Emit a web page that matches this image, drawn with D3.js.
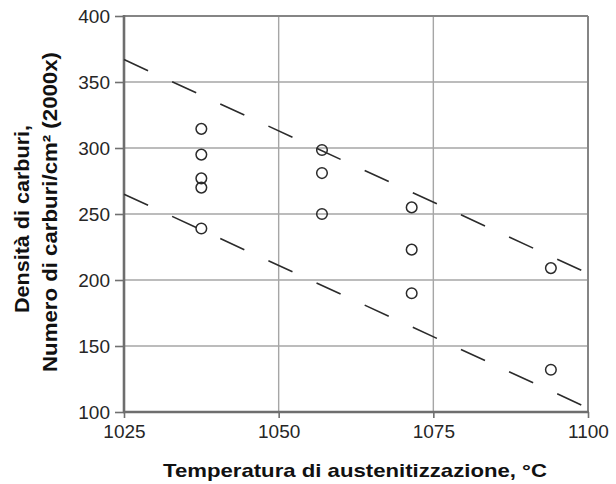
<!DOCTYPE html>
<html>
<head>
<meta charset="utf-8">
<script src="https://cdn.jsdelivr.net/npm/d3@7"></script>
<style>
  html, body { margin: 0; padding: 0; background: #fff; }
  svg { display: block; }
  text { font-family: "Liberation Sans", Arial, sans-serif; }
</style>
</head>
<body>
<svg id="chart" width="616" height="484"></svg>
<script>
// Austenitizing temperature (°C) for each measured specimen
const temperature = [1037.5, 1037.5, 1037.5, 1037.5, 1037.5,
                     1057, 1057, 1057,
                     1071.5, 1071.5, 1071.5,
                     1094, 1094];
// Carbide density, carbides/cm² at 2000x
const carbideDensity = [314.5, 295, 277, 270, 239,
                        298.5, 281, 250,
                        255, 223, 190,
                        209, 132];

// Dashed bounding band: [temperature, density] end points
const upperBound = [[1025, 367], [1100, 205]];
const lowerBound = [[1025, 265], [1100, 103]];

const xTicks = [1025, 1050, 1075, 1100];
const yTicks = [100, 150, 200, 250, 300, 350, 400];

const xTitle = "Temperatura di austenitizzazione, °C";
const yTitle1 = "Densità di carburi,";
const yTitle2 = "Numero di carburi/cm² (2000x)";

const svg = d3.select("#chart");
const plot = { left: 124, right: 588, top: 16, bottom: 412 };

const x = d3.scaleLinear().domain([1025, 1100]).range([plot.left, plot.right]);
const y = d3.scaleLinear().domain([100, 400]).range([plot.bottom, plot.top]);

// grid lines
const grid = svg.append("g");
grid.selectAll("line.v").data(xTicks.slice(1, -1)).join("line")
  .attr("x1", d => x(d)).attr("x2", d => x(d))
  .attr("y1", plot.top).attr("y2", plot.bottom)
  .attr("stroke", "#a6a6a6").attr("stroke-width", 1.4);
grid.selectAll("line.h").data(yTicks.slice(1, -1)).join("line")
  .attr("y1", d => y(d)).attr("y2", d => y(d))
  .attr("x1", plot.left).attr("x2", plot.right)
  .attr("stroke", "#a6a6a6").attr("stroke-width", 1.4);

// axes (ticks + labels)
const xAxis = svg.append("g")
  .attr("transform", `translate(0,${plot.bottom})`)
  .call(d3.axisBottom(x).tickValues(xTicks).tickFormat(d3.format("d"))
        .tickSize(6).tickPadding(7).tickSizeOuter(0));
const yAxis = svg.append("g")
  .attr("transform", `translate(${plot.left},0)`)
  .call(d3.axisLeft(y).tickValues(yTicks).tickFormat(d3.format("d"))
        .tickSize(9).tickPadding(5).tickSizeOuter(0));
[xAxis, yAxis].forEach(a => {
  a.select(".domain").remove();
  a.selectAll(".tick line").attr("stroke", "#707070").attr("stroke-width", 1.6);
  a.selectAll(".tick text")
    .attr("fill", "#262626")
    .style("font-size", "19px")
    .style("font-family", "'Liberation Sans', Arial, sans-serif");
});

// plot frame: heavier left / bottom axes, lighter top / right border
svg.append("line").attr("x1", plot.left).attr("x2", plot.right)
  .attr("y1", plot.top).attr("y2", plot.top)
  .attr("stroke", "#858585").attr("stroke-width", 2);
svg.append("line").attr("x1", plot.right).attr("x2", plot.right)
  .attr("y1", plot.top).attr("y2", plot.bottom)
  .attr("stroke", "#858585").attr("stroke-width", 2);
svg.append("line").attr("x1", plot.left).attr("x2", plot.left)
  .attr("y1", plot.top - 1).attr("y2", plot.bottom + 1)
  .attr("stroke", "#6e6e6e").attr("stroke-width", 2.6);
svg.append("line").attr("x1", plot.left - 1).attr("x2", plot.right + 1)
  .attr("y1", plot.bottom).attr("y2", plot.bottom)
  .attr("stroke", "#6e6e6e").attr("stroke-width", 2.6);

// dashed band lines
const line = d3.line().x(d => x(d[0])).y(d => y(d[1]));
svg.selectAll("path.band").data([upperBound, lowerBound]).join("path")
  .attr("class", "band")
  .attr("d", line)
  .attr("fill", "none")
  .attr("stroke", "#2b2b2b")
  .attr("stroke-width", 1.6)
  .attr("stroke-dasharray", "26.5,26.5");

// measured points
svg.append("g").selectAll("circle")
  .data(temperature.map((t, i) => [t, carbideDensity[i]]))
  .join("circle")
  .attr("cx", d => x(d[0]))
  .attr("cy", d => y(d[1]))
  .attr("r", 5.3)
  .attr("fill", "none")
  .attr("stroke", "#2b2b2b")
  .attr("stroke-width", 1.5);

// axis titles
svg.append("text")
  .attr("x", 163).attr("y", 477)
  .attr("textLength", 384).attr("lengthAdjust", "spacingAndGlyphs")
  .attr("fill", "#111")
  .style("font-size", "19px").style("font-weight", "bold")
  .text(xTitle);

svg.append("text")
  .attr("transform", "translate(29,313) rotate(-90)")
  .attr("textLength", 188).attr("lengthAdjust", "spacingAndGlyphs")
  .attr("fill", "#111")
  .style("font-size", "20px").style("font-weight", "bold")
  .text(yTitle1);

svg.append("text")
  .attr("transform", "translate(57,372) rotate(-90)")
  .attr("textLength", 320).attr("lengthAdjust", "spacingAndGlyphs")
  .attr("fill", "#111")
  .style("font-size", "20px").style("font-weight", "bold")
  .text(yTitle2);
</script>
</body>
</html>
